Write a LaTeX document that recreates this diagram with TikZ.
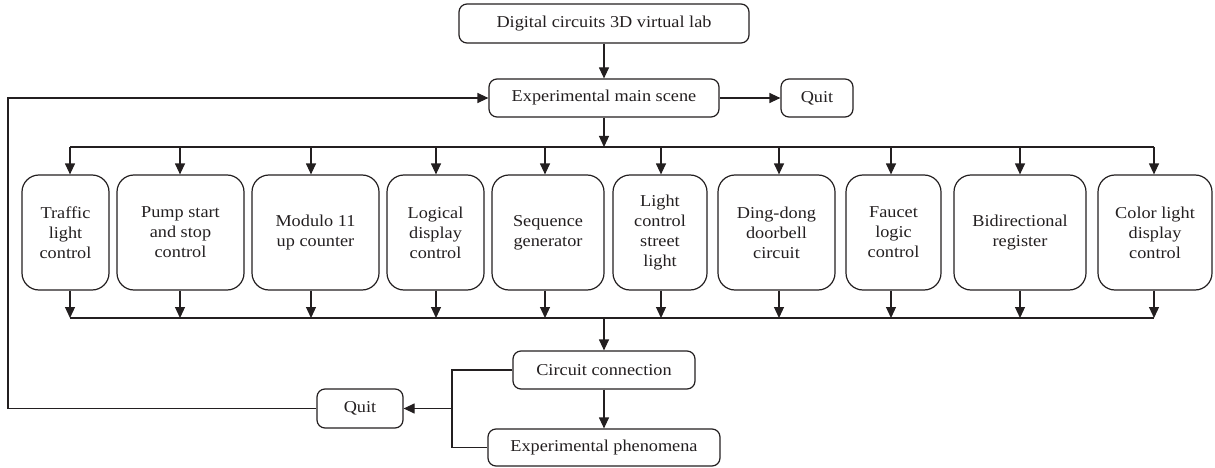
\documentclass[tikz,border=0pt]{standalone}
\usepackage{fontspec}
\setmainfont[FakeStretch=1.1]{Liberation Serif}
\usetikzlibrary{arrows.meta}
\definecolor{ink}{HTML}{231F20}
\begin{document}
\begin{tikzpicture}[x=1pt,y=-1pt,
  box/.style={draw=ink, line width=1.2pt, rounded corners=8pt, align=center, inner sep=0pt,
    font=\fontsize{16.6}{20}\selectfont, text=ink},
  bigbox/.style={box, rounded corners=17pt, minimum height=115pt},
  arr/.style={draw=ink, line width=1.2pt, -{Triangle[length=11pt,width=10pt]}},
  ln/.style={draw=ink, line width=1.2pt}]
\useasboundingbox (0,0) rectangle (1215,468);
% top part
\node[box, minimum width=290pt, minimum height=39pt] (top) at (604,23.5) {Digital circuits 3D virtual lab};
\node[box, minimum width=230pt, minimum height=38pt] (main) at (604,98) {Experimental main scene};
\node[box, minimum width=72pt, minimum height=38pt] (quitA) at (817,98) {Quit};
% column boxes
\node[bigbox, minimum width=87pt]  (c1)  at (65.5,232.5) {Traffic\\light\\control};
\node[bigbox, minimum width=127pt] (c2)  at (180.5,232.5) {Pump start\\and stop\\control};
\node[bigbox, minimum width=127pt] (c3)  at (315.5,232.5) {Modulo 11\\up counter};
\node[bigbox, minimum width=97pt]  (c4)  at (435.5,232.5) {Logical\\display\\control};
\node[bigbox, minimum width=112pt] (c5)  at (548,232.5) {Sequence\\generator};
\node[bigbox, minimum width=94pt]  (c6)  at (660,232.5) {Light\\control\\street\\light};
\node[bigbox, minimum width=117pt] (c7)  at (776.5,232.5) {Ding-dong\\doorbell\\circuit};
\node[bigbox, minimum width=95pt]  (c8)  at (893.5,232.5) {Faucet\\logic\\control};
\node[bigbox, minimum width=132pt] (c9)  at (1020,232.5) {Bidirectional\\register};
\node[bigbox, minimum width=114pt] (c10) at (1155,232.5) {Color light\\display\\control};
% bottom part
\node[box, minimum width=182pt, minimum height=38pt] (circ) at (604,370) {Circuit connection};
\node[box, minimum width=86pt, minimum height=39pt] (quitB) at (360,408.5) {Quit};
\node[box, minimum width=232pt, minimum height=37pt] (phen) at (604,447.5) {Experimental phenomena};
% bus coordinates
\coordinate (tb) at (604,147);
\coordinate (bb) at (604,318);
\foreach \i/\x in {1/70,2/180,3/311,4/436,5/545,6/661,7/779,8/891,9/1020,10/1154}{
  \coordinate (t\i) at (\x,147);
  \coordinate (b\i) at (\x,318);
}
\draw[arr] (top) -- (main);
\draw[arr] (main) -- (quitA);
\draw[arr] (main.south) -- (tb);
\draw[ln] (t1) -- (t10);
\draw[ln] (b1) -- (b10);
\foreach \i in {1,...,10}{
  \draw[arr] (t\i) -- (t\i |- c\i.north);
  \draw[arr] (c\i.south -| b\i) -- (b\i);
}
\draw[arr] (bb) -- (circ.north);
\draw[arr] (circ) -- (phen);
\coordinate (j1) at (452,370);
\coordinate (j2) at (452,408.5);
\coordinate (j3) at (452,447.5);
\draw[ln] (circ.west) -- (j1) -- (j3) -- (phen.west);
\draw[arr] (j2) -- (quitB.east);
\coordinate (f1) at (8,408.5);
\coordinate (f2) at (8,98);
\draw[arr] (quitB.west) -- (f1) -- (f2) -- (main.west);
\end{tikzpicture}
\end{document}
